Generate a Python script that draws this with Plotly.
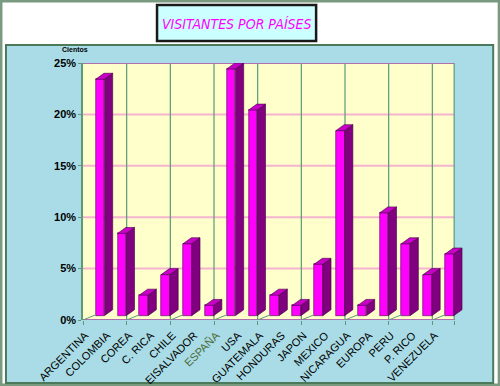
import plotly.graph_objects as go

# ---- data ----
countries = ["ARGENTINA", "COLOMBIA", "COREA", "C. RICA", "CHILE", "EISALVADOR",
             "ESPAÑA", "USA", "GUATEMALA", "HONDURAS", "JAPON", "MEXICO",
             "NICARAGUA", "EUROPA", "PERU", "P. RICO", "VENEZUELA"]
values = [23, 8, 2, 4, 7, 1, 24, 20, 2, 1, 5, 18, 1, 10, 7, 4, 6]
y_ticks = [0, 5, 10, 15, 20, 25]
y_tick_labels = ["0%", "5%", "10%", "15%", "20%", "25%"]

n = len(countries)

# ---- figure geometry (pixels) ----
W, H = 500, 386
L, WALL_R, T, B = 83, 454, 63, 320
UNIT = (WALL_R - L) / n          # px per category
EXTRA = 0.45                      # room on the right for the last bar's depth
R = WALL_R + EXTRA * UNIT
X_LO, X_HI = -0.5, n - 0.5


def px_x(x):
    return (x - L) / (R - L)


def px_y(y):
    return (B - y) / (B - T)


# 3D styling constants
BASE = 0.42          # bars' front bottom (floor depth)
X0, X1 = 0.08, 0.48  # front face extent within category
DX, DY = 0.38, 0.58  # depth offset

xs = list(range(n))

fig = go.Figure()

# front faces
fig.add_trace(go.Bar(
    x=[i + (X0 + X1) / 2 for i in xs], y=values, base=BASE, width=X1 - X0,
    marker=dict(color="#ff00ff", line=dict(color="#500050", width=0.6)),
    hoverinfo="skip", showlegend=False))

# side faces
sx, sy = [], []
for i, v in zip(xs, values):
    sx += [i + X1, i + X1 + DX, i + X1 + DX, i + X1, i + X1, None]
    sy += [BASE, BASE + DY, BASE + v + DY, BASE + v, BASE, None]
fig.add_trace(go.Scatter(x=sx, y=sy, mode="lines", fill="toself",
                         fillcolor="#800080", line=dict(color="#400040", width=0.6),
                         hoverinfo="skip", showlegend=False))
# top faces
tx, ty = [], []
for i, v in zip(xs, values):
    tx += [i + X0, i + X1, i + X1 + DX, i + X0 + DX, i + X0, None]
    ty += [BASE + v, BASE + v, BASE + v + DY, BASE + v + DY, BASE + v, None]
fig.add_trace(go.Scatter(x=tx, y=ty, mode="lines", fill="toself",
                         fillcolor="#c800c8", line=dict(color="#400040", width=0.6),
                         hoverinfo="skip", showlegend=False))

# floor diagonals
grid_pos = [k - 0.5 for k in range(0, n, 2)]
fx, fy = [], []
for g in grid_pos:
    fx += [g, g + 0.6, None]
    fy += [0, BASE + 0.1, None]
fig.add_trace(go.Scatter(x=fx, y=fy, mode="lines", line=dict(color="#5a9a78", width=1),
                         hoverinfo="skip", showlegend=False))

tick_text = [f"<span style='color:#4f6b3a'>{c}</span>" if c == "ESPAÑA" else c
             for c in countries]

shapes = [
    # outer frame
    dict(type="rect", xref="paper", yref="paper", x0=px_x(1), x1=px_x(W - 1),
         y0=px_y(1), y1=px_y(H - 1), line=dict(color="#7a9a80", width=3),
         fillcolor="white", layer="below"),
    # chart area (water texture colour)
    dict(type="rect", xref="paper", yref="paper", x0=px_x(6), x1=px_x(493),
         y0=px_y(45), y1=px_y(383), line=dict(color="#4a7a5a", width=2),
         fillcolor="#a9dce6", layer="below"),
    # plot wall
    dict(type="rect", xref="x", yref="y", x0=X_LO, x1=X_HI, y0=0, y1=25,
         line=dict(width=0), fillcolor="#ffffcc", layer="below"),
]
# horizontal gridlines on the wall
for yv in y_ticks[1:-1]:
    shapes.append(dict(type="line", xref="x", yref="y", x0=X_LO, x1=X_HI, y0=yv, y1=yv,
                       line=dict(color="#f4b4d0", width=2), layer="below"))
# vertical gridlines on the wall
for g in grid_pos[1:] + [X_HI]:
    shapes.append(dict(type="line", xref="x", yref="y", x0=g, x1=g, y0=0, y1=25,
                       line=dict(color="#5a9a78", width=1.2), layer="below"))
# top and bottom edges of the wall
for yv in (0, 25):
    shapes.append(dict(type="line", xref="x", yref="y", x0=X_LO, x1=X_HI, y0=yv, y1=yv,
                       line=dict(color="#b070b0", width=2), layer="below"))
# title box
shapes.append(dict(type="rect", xref="paper", yref="paper", x0=px_x(157), x1=px_x(316),
                   y0=px_y(5), y1=px_y(41), line=dict(color="#1a1a1a", width=2.5),
                   fillcolor="#ccffff", layer="above"))

annotations = [
    dict(text="VISITANTES POR PAÍSES", xref="paper", yref="paper",
         x=px_x(237), y=px_y(24), showarrow=False, xanchor="center", yanchor="middle",
         font=dict(family="DejaVu Sans Condensed, Liberation Sans Narrow, Arial Narrow",
                   size=14, color="#ff00ff", style="italic")),
    dict(text="<b>Cientos</b>", xref="paper", yref="paper",
         x=px_x(60), y=px_y(50), showarrow=False, xanchor="left", yanchor="middle",
         font=dict(family="Liberation Sans, Arial", size=7, color="black")),
]

fig.update_layout(
    width=W, height=H, autosize=False,
    margin=dict(l=L, r=W - R, t=T, b=H - B, pad=0),
    paper_bgcolor="white", plot_bgcolor="rgba(0,0,0,0)",
    bargap=0, barmode="overlay",
    shapes=shapes, annotations=annotations,
    xaxis=dict(range=[X_LO, X_HI + EXTRA], tickmode="array", automargin=False,
               tickvals=[i - 0.4 for i in xs], ticktext=tick_text,
               tickangle=-45, ticks="", showgrid=False, zeroline=False,
               showline=False, ticklabelstandoff=6,
               tickfont=dict(family="Liberation Sans, Arial", size=11, color="black"),
               minor=dict(tickmode="array", tickvals=grid_pos + [X_HI], showgrid=False,
                          ticks="outside", ticklen=4, tickcolor="#5a9a78")),
    yaxis=dict(range=[0, 25], tickmode="array", tickvals=y_ticks, ticktext=y_tick_labels,
               automargin=False,
               showgrid=False, zeroline=False,
               showline=True, linecolor="#5a9a78", linewidth=1.5,
               ticks="outside", ticklen=3, tickcolor="#5a9a78",
               tickfont=dict(family="Liberation Sans, Arial", size=11, color="black",
                             weight="bold")),
    font=dict(family="Liberation Sans, Arial"),
)

fig.write_html("out.html", config={"displayModeBar": False, "responsive": False},
               post_script="document.body.style.margin='0';document.body.style.overflow='hidden';")
